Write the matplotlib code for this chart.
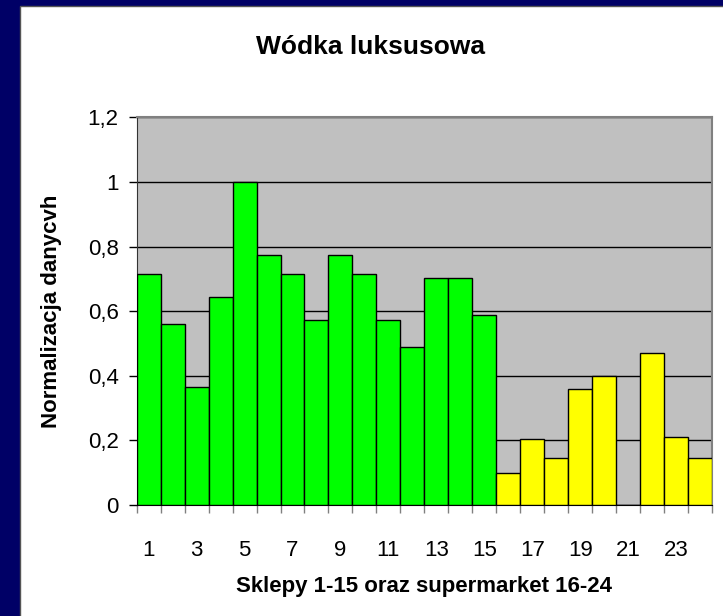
import matplotlib
matplotlib.use("Agg")
import matplotlib.pyplot as plt
from matplotlib.patches import Rectangle

# ── Dane ───────────────────────────────────────────────────────────────────────
sklepy = list(range(1, 16))
supermarket = list(range(16, 25))
wartosci_sklepy = [0.716, 0.560, 0.364, 0.644, 1.0, 0.775, 0.716, 0.573,
                   0.775, 0.716, 0.573, 0.489, 0.702, 0.702, 0.589]
wartosci_supermarket = [0.099, 0.205, 0.146, 0.359, 0.40, 0.0, 0.472, 0.212, 0.146]
etykiety_x = [str(i) for i in range(1, 25, 2)]
etykiety_y = ["0", "0,2", "0,4", "0,6", "0,8", "1", "1,2"]
wartosci_y = [0, 0.2, 0.4, 0.6, 0.8, 1.0, 1.2]

plt.rcParams["font.family"] = ["Liberation Sans", "DejaVu Sans"]

W, H = 723, 616
PX = 72 / 100  # 1 piksel w punktach przy dpi=100

fig = plt.figure(figsize=(W / 100, H / 100), dpi=100)
fig.patch.set_facecolor("#000066")

# biały panel wewnątrz granatowej ramki
fig.patches.append(Rectangle((20 / W, -0.01), 1.01 - 20 / W, 1.01 - 6 / H,
                             transform=fig.transFigure, facecolor="white",
                             edgecolor="#555555", linewidth=1.0, zorder=-5))

ax = fig.add_axes([136.7 / W, 1 - 505 / H, (712 - 136.7) / W, (505 - 117.3) / H])
ax.set_facecolor("#C0C0C0")

ax.bar(sklepy, wartosci_sklepy, width=1.0, color="#00FF00",
       edgecolor="black", linewidth=1.0, zorder=3)
ax.bar(supermarket, wartosci_supermarket, width=1.0, color="#FFFF00",
       edgecolor="black", linewidth=1.0, zorder=3)

ax.set_xlim(0.5, 24.5)
ax.set_ylim(0, 1.2)

ax.set_yticks(wartosci_y)
ax.set_yticklabels(etykiety_y)
ax.yaxis.grid(True, color="black", linewidth=1.0, zorder=1)
ax.set_axisbelow(True)

# kreski między słupkami, etykiety co drugi słupek
ax.set_xticks([i + 0.5 for i in range(0, 25)])
ax.set_xticklabels([])
ax.set_xticks(list(range(1, 25, 2)), minor=True)
ax.set_xticklabels(etykiety_x, minor=True)
ax.tick_params(axis="x", which="minor", length=0, labelsize=16, pad=25)
ax.tick_params(axis="x", which="major", length=8 * PX, width=1, color="#808080")
ax.tick_params(axis="y", length=8 * PX, width=1, labelsize=16, pad=10 * PX)

for side in ["top", "right"]:
    ax.spines[side].set_color("#808080")
    ax.spines[side].set_linewidth(1.5)
ax.spines["left"].set_color("#333333")
ax.spines["bottom"].set_color("black")

fig.text(371 / W, 1 - 54 / H, "Wódka luksusowa", ha="center", va="baseline",
         fontsize=19, fontweight="bold")
fig.text(424.5 / W, 1 - 592 / H, "Sklepy 1-15 oraz supermarket 16-24",
         ha="center", va="baseline", fontsize=16, fontweight="bold")
fig.text(52 / W, 1 - 311 / H, "Normalizacja danycvh", ha="center", va="center",
         rotation=90, fontsize=16, fontweight="bold")

fig.savefig("out.png", dpi=100, facecolor=fig.get_facecolor())
